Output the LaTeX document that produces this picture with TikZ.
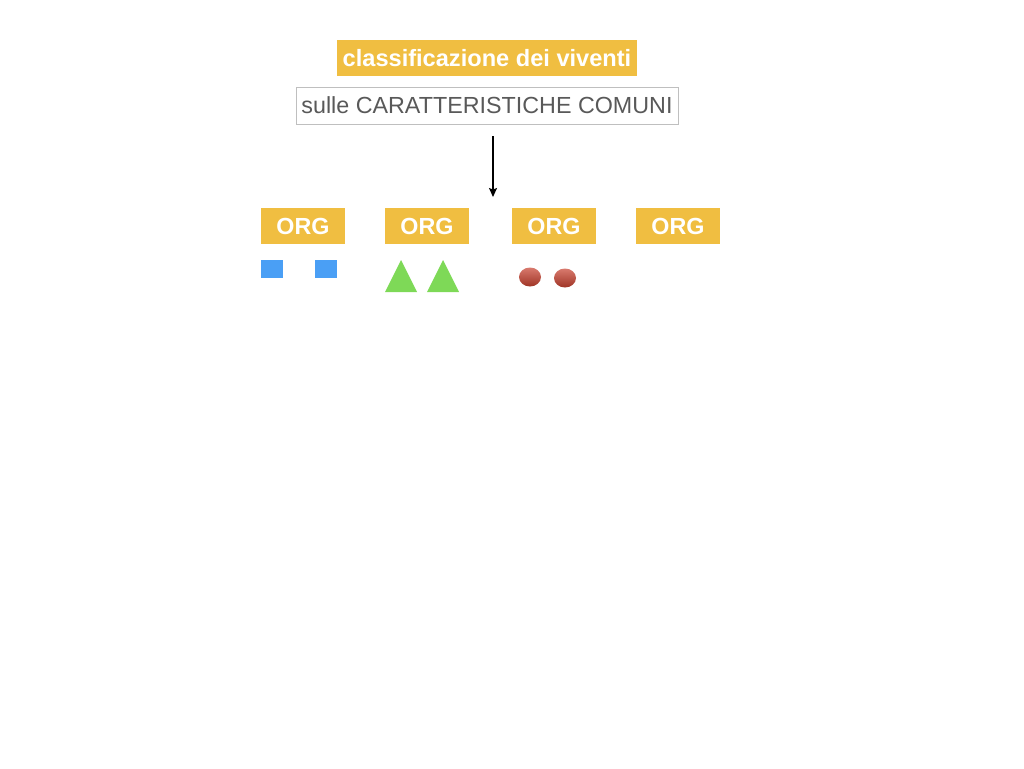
\documentclass[tikz,border=0pt]{standalone}
\usepackage{fontspec}
\setmainfont{Liberation Sans}
\usepackage{xcolor}
\usetikzlibrary{arrows.meta,positioning}
\definecolor{orgyellow}{HTML}{F0BE41}
\definecolor{sqblue}{HTML}{4A9FF5}
\definecolor{trigreen}{HTML}{7ED957}
\definecolor{dotred}{HTML}{C8412F}
\tikzset{
	titlebox/.style={fill=orgyellow,text=white,font=\bfseries\fontsize{23.6}{28}\selectfont,minimum width=300pt,minimum height=36pt,inner sep=0pt},
	subbox/.style={draw=black!25,line width=0.8pt,text=black!65,font=\fontsize{23.3}{28}\selectfont,minimum width=382pt,minimum height=37pt,inner sep=0pt},
	orgbox/.style={fill=orgyellow,text=white,font=\bfseries\fontsize{23.3}{28}\selectfont,minimum width=84pt,minimum height=36pt,inner sep=0pt}
}
\begin{document}
\begin{tikzpicture}[x=1pt,y=-1pt]
		\useasboundingbox (0,0) rectangle (1024,768);
		\node[titlebox] (title) at (487,58) {classificazione dei viventi};
		\node[subbox] (sub) at (487,105.5) {sulle CARATTERISTICHE COMUNI};
		\coordinate (arrow top) at (493,136);
		\coordinate (arrow end) at (493,197);
		\draw [-{Stealth[length=9pt,width=8pt,inset=1.5pt]},line width=1.3pt](arrow top) -- (arrow end);
		\node[orgbox] (org1) at (303,226) {ORG};
		\node[orgbox] (org2) at (427,226) {ORG};
		\node[orgbox] (org3) at (554,226) {ORG};
		\node[orgbox] (org4) at (678,226) {ORG};
		\fill[sqblue] (261,260) rectangle (283,278);
		\fill[sqblue] (315,260) rectangle (337,278);
		\fill[trigreen] (385,292) -- (401,260) -- (417,292) -- cycle;
		\fill[trigreen] (427,292) -- (443,260) -- (459,292) -- cycle;
		\shade[top color=dotred!70!white,bottom color=dotred!80!black] (530,277) ellipse (11 and 9.5);
		\shade[top color=dotred!70!white,bottom color=dotred!80!black] (565,278) ellipse (11 and 9.5);
	\end{tikzpicture}
\end{document}
